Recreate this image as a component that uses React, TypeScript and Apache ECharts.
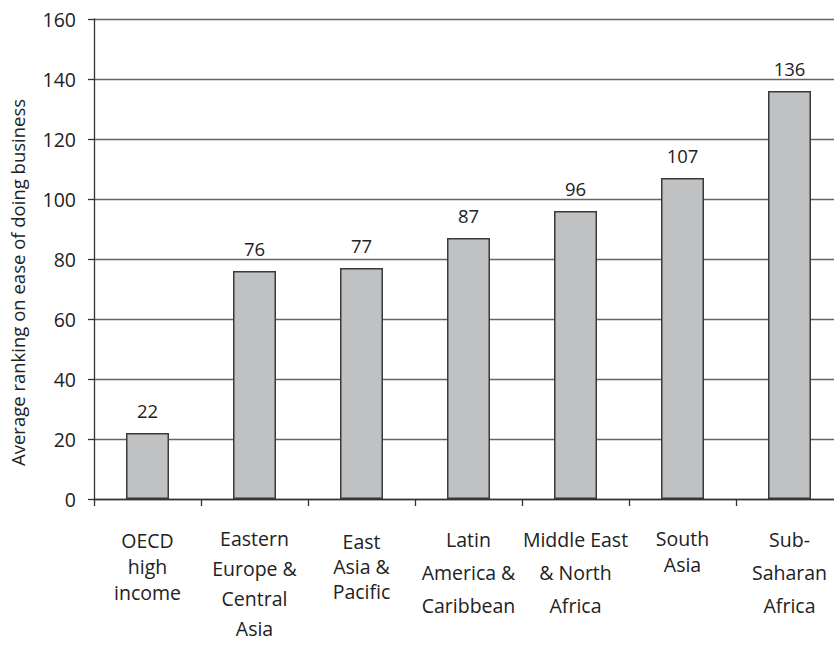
import React, { useEffect, useRef } from "react";
import * as echarts from "echarts";

const categories = [
  "OECD\nhigh\nincome",
  "Eastern\nEurope &\nCentral\nAsia",
  "East\nAsia &\nPacific",
  "Latin\nAmerica &\nCaribbean",
  "Middle East\n& North\nAfrica",
  "South\nAsia",
  "Sub-\nSaharan\nAfrica",
];
const values = [22, 76, 77, 87, 96, 107, 136];
const yAxisTitle = "Average ranking on ease of doing business";

// label layout per category (style, kept separate from data)
const labelLineHeights = [26, 30, 25, 33, 33, 26, 33];
const labelPadTop = [4, 0, 5.5, 0, 0, 2, 0];

const FONT = "'Open Sans', sans-serif";
const TEXT = "#222";

export default function App() {
  const ref = useRef<HTMLDivElement>(null);
  useEffect(() => {
    if (!ref.current) return;
    const chart = echarts.init(ref.current, null, { renderer: "svg" });
    chart.setOption({
      animation: false,
      backgroundColor: "#ffffff",
      textStyle: { fontFamily: FONT },
      grid: {
        left: 94,
        top: 19,
        width: 749,
        height: 480,
        containLabel: false,
        outerBoundsMode: "none",
      },
      graphic: [
        {
          type: "text",
          x: 17,
          y: 466,
          rotation: Math.PI / 2,
          style: {
            text: yAxisTitle,
            fontSize: 18.5,
            fontFamily: FONT,
            fill: TEXT,
            align: "left",
            verticalAlign: "middle",
          },
        },
      ],
      xAxis: {
        type: "category",
        data: categories.map((c, i) => ({
          value: c,
          textStyle: {
            lineHeight: labelLineHeights[i],
            padding: [labelPadTop[i], 0, 0, 0],
          },
        })),
        axisLine: { show: true, lineStyle: { color: "#333", width: 1.3 } },
        axisTick: { show: true, length: 7, interval: 0, lineStyle: { color: "#333", width: 1.3 } },
        axisLabel: {
          interval: 0,
          margin: 24,
          fontSize: 19.5,
          color: TEXT,
          fontFamily: FONT,
          align: "center",
        },
        splitLine: { show: false },
      },
      yAxis: {
        type: "value",
        min: 0,
        max: 160,
        interval: 20,
        axisLine: { show: true, lineStyle: { color: "#333", width: 1.3 } },
        axisTick: { show: true, length: 6, lineStyle: { color: "#333", width: 1.3 } },
        axisLabel: { margin: 18, fontSize: 19.5, color: TEXT, fontFamily: FONT },
        splitLine: { show: true, lineStyle: { color: "#666", width: 1.3 } },
      },
      series: [
        {
          type: "bar",
          data: values,
          barWidth: 43,
          itemStyle: { color: "#c0c1c3", borderColor: "#3a3a3a", borderWidth: 1.5 },
          label: {
            show: true,
            position: "top",
            distance: 13,
            fontSize: 18.5,
            color: TEXT,
            fontFamily: FONT,
          },
        },
      ],
    });
    return () => chart.dispose();
  }, []);
  return (
    <div
      ref={ref}
      style={{ position: "fixed", left: 0, top: 0, width: 834, height: 645, background: "#fff" }}
    />
  );
}
